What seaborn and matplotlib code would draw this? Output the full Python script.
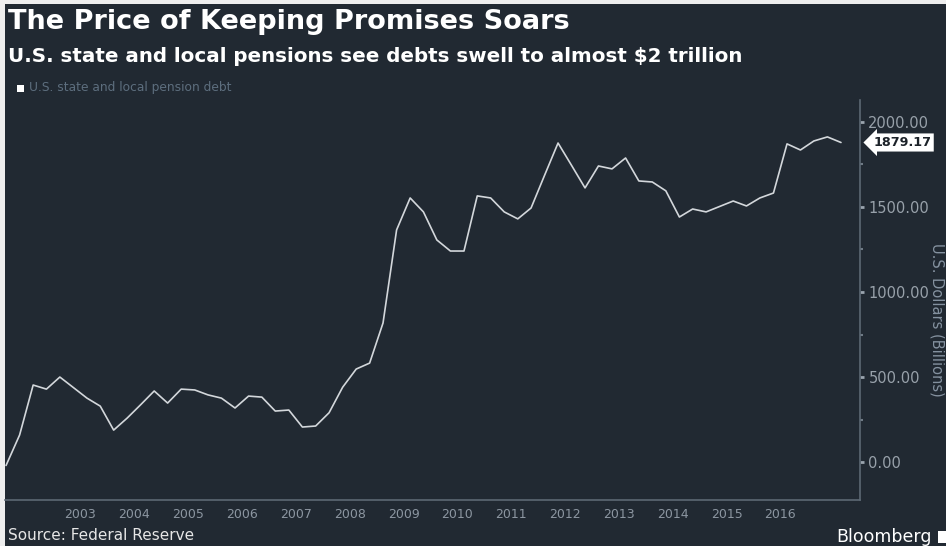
import numpy as np
import pandas as pd
import matplotlib
matplotlib.use("Agg")
import matplotlib.pyplot as plt
import matplotlib.dates as mdates
from matplotlib.patches import Rectangle
import seaborn as sns

# ---- data (US$ billions, quarterly) ----
first_quarter = "2001Q3"
last_quarter = "2017Q1"
pension_debt = [
    -20, 159, 453, 429, 500, 438, 376, 329, 188, 259,
    338, 418, 347, 429, 424, 395, 376, 318, 388, 382,
    300, 306, 206, 212, 290, 440, 547, 582, 818, 1365,
    1553, 1471, 1306, 1241, 1241, 1565, 1553, 1471, 1430, 1494,
    1685, 1876, 1744, 1612, 1741, 1724, 1788, 1653, 1647, 1595,
    1441, 1488, 1471, 1503, 1535, 1506, 1553, 1582, 1871, 1835,
    1888, 1912, 1879.17,
]
year_ticks = list(range(2003, 2017))
y_ticks = [0, 500, 1000, 1500, 2000]
last_label = "1879.17"
title = "The Price of Keeping Promises Soars"
subtitle = "U.S. state and local pensions see debts swell to almost $2 trillion"
legend_label = "U.S. state and local pension debt"
y_label = "U.S. Dollars (Billions)"
source = "Source: Federal Reserve"
brand = "Bloomberg"

quarters = pd.period_range(first_quarter, last_quarter, freq="Q")
df = pd.DataFrame({
    "date": quarters.to_timestamp(how="start") + pd.Timedelta(days=45),
    "debt": pension_debt,
})

BG = "#212932"
W, H = 946, 546

sns.set_theme(style="dark")
plt.rcParams["font.family"] = ["DejaVu Sans"]

fig = plt.figure(figsize=(W / 100, H / 100), dpi=100, facecolor="#eeeeee")
fig.patches.append(Rectangle((5 / W, 0), 1, 542 / H, transform=fig.transFigure,
                             facecolor=BG, edgecolor="none", zorder=-5))

ax = fig.add_axes([5 / W, 46 / H, 855 / W, 400 / H])
ax.set_facecolor(BG)
sns.lineplot(data=df, x="date", y="debt", ax=ax, color="#d3d7db", linewidth=1.2)

ax.set_xlim(pd.Timestamp("2001-08-08"), pd.Timestamp("2017-06-24"))
ax.set_ylim(-223, 2129)
ax.grid(False)

# x axis
ax.set_xticks([pd.Timestamp(f"{y}-01-01") for y in year_ticks])
ax.set_xticklabels([str(y) for y in year_ticks])
ax.tick_params(axis="x", length=0, pad=6, labelsize=9, labelcolor="#8c96a1")
ax.set_xlabel("")

# y axis on the right
ax.yaxis.tick_right()
ax.set_yticks(y_ticks)
ax.set_yticklabels([f"{v:.2f}" for v in y_ticks])
ax.set_yticks([250, 750, 1250, 1750], minor=True)
ax.tick_params(axis="y", which="major", direction="out", length=3, width=2,
               color="#9aa4ae", pad=3, labelsize=10.5, labelcolor="#98a1aa")
ax.tick_params(axis="y", which="minor", direction="out", length=2, width=1.5,
               color="#6f7a85", right=True, left=False)
ax.set_ylabel("")

for side in ["left", "top"]:
    ax.spines[side].set_visible(False)
for side in ["right", "bottom"]:
    ax.spines[side].set_visible(True)
    ax.spines[side].set_color("#5c6873")
    ax.spines[side].set_linewidth(1.2)

# last value tag
ax.annotate(last_label, xy=(1, pension_debt[-1]), xycoords=("axes fraction", "data"),
            xytext=(9.5, 0), textcoords="offset points", ha="left", va="center",
            fontsize=9.2, fontweight="bold", color="#1c2229",
            bbox=dict(boxstyle="larrow,pad=0.2", fc="white", ec="none"))

# titles and labels
fig.text(8 / W, 1 - 22 / H, title, fontsize=19.5, fontweight="bold", color="white",
         va="center", ha="left")
fig.text(8 / W, 1 - 57 / H, subtitle, fontsize=14.3, fontweight="bold", color="white",
         va="center", ha="left")
fig.patches.append(Rectangle((17 / W, 1 - 92 / H), 7 / W, 7 / H, transform=fig.transFigure,
                             facecolor="white", edgecolor="none"))
fig.text(29 / W, 1 - 88 / H, legend_label, fontsize=8.8, color="#5d6e7e",
         va="center", ha="left")
fig.text(937 / W, 1 - 320 / H, y_label, fontsize=10.5, color="#8592a0",
         rotation=270, va="center", ha="center")
fig.text(8 / W, 1 - 536 / H, source, fontsize=11, color="#e6e6e6",
         va="center", ha="left")
fig.text(932 / W, 1 - 537 / H, brand, fontsize=12.5, color="white",
         va="center", ha="right")
fig.patches.append(Rectangle((938 / W, 1 - 543 / H), 9 / W, 12 / H, transform=fig.transFigure,
                             facecolor="white", edgecolor="none"))

fig.savefig("out.png", dpi=100, facecolor=fig.get_facecolor())
